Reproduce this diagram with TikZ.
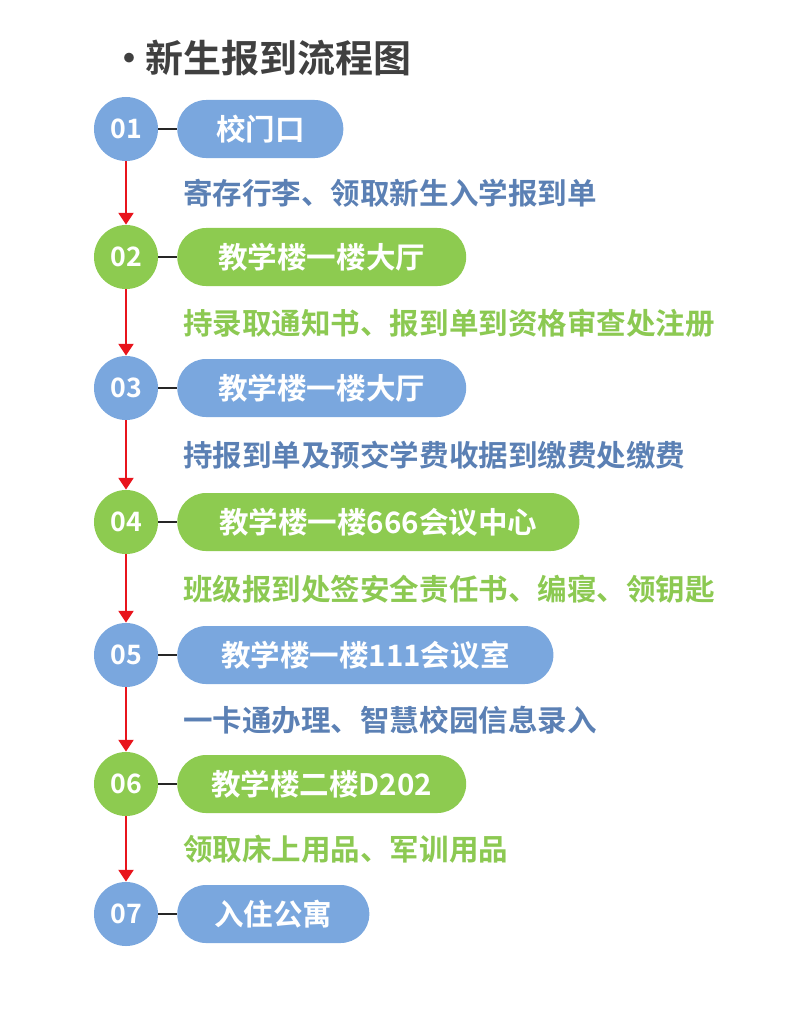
\documentclass[tikz,border=0pt]{standalone}
\usepackage{fontspec}
\setmainfont{Noto Sans CJK SC}[BoldFont={* Bold}]
\usetikzlibrary{arrows.meta}
\definecolor{stepblue}{RGB}{122,167,222}
\definecolor{stepgreen}{RGB}{141,203,80}
\definecolor{noteblue}{RGB}{91,128,180}
\definecolor{notegreen}{RGB}{140,201,82}
\definecolor{titlegrey}{RGB}{64,64,64}
\definecolor{arrowred}{RGB}{232,20,28}
\tikzset{
  num/.style={circle, minimum size=1.6cm, inner sep=0pt, text=white,
    font=\bfseries\fontsize{19}{19}\selectfont},
  place/.style={rounded corners=0.72cm, minimum height=1.45cm, anchor=west,
    text=white, font=\bfseries\fontsize{21}{21}\selectfont},
  note/.style={anchor=west, inner sep=0pt, font=\bfseries\fontsize{21}{21}\selectfont},
  go/.style={-{Triangle[length=8.5pt,width=10.5pt]}, arrowred, line width=2.1pt},
  tie/.style={line width=2.1pt, black!85}
}
\begin{document}
\begin{tikzpicture}[x=0.025cm, y=-0.025cm]
    \useasboundingbox (0,0) rectangle (800,1015);
    \node[anchor=west, inner sep=0pt, text=titlegrey, font=\bfseries\fontsize{27}{27}\selectfont] (title) at (110,58) {•\hspace{-1.7pt}新生报到流程图};

    \node[num, fill=stepblue] (1) at (126,129) {01};
    \node[num, fill=stepgreen] (2) at (126,257) {02};
    \node[num, fill=stepblue] (3) at (126,388) {03};
    \node[num, fill=stepgreen] (4) at (126,522) {04};
    \node[num, fill=stepblue] (5) at (126,655) {05};
    \node[num, fill=stepgreen] (6) at (126,784) {06};
    \node[num, fill=stepblue] (7) at (126,914) {07};

    \node[place, fill=stepblue, minimum width=4.15cm] (p1) at (177,129) {校门口};
    \node[place, fill=stepgreen, minimum width=7.22cm] (p2) at (177,257) {教学楼一楼大厅};
    \node[place, fill=stepblue, minimum width=7.22cm] (p3) at (177,388) {教学楼一楼大厅};
    \node[place, fill=stepgreen, minimum width=10.05cm] (p4) at (177,522) {教学楼一楼666会议中心};
    \node[place, fill=stepblue, minimum width=9.4cm] (p5) at (177,655) {教学楼一楼111会议室};
    \node[place, fill=stepgreen, minimum width=7.22cm] (p6) at (177,784) {教学楼二楼D202};
    \node[place, fill=stepblue, minimum width=4.8cm] (p7) at (177,914) {入住公寓};

    \node[note, text=noteblue] (n1) at (183,193) {寄存行李、领取新生入学报到单};
    \node[note, text=notegreen] (n2) at (183,323) {持录取通知书、报到单到资格审查处注册};
    \node[note, text=noteblue] (n3) at (183,455) {持报到单及预交学费收据到缴费处缴费};
    \node[note, text=notegreen] (n4) at (183,589) {班级报到处签安全责任书、编寝、领钥匙};
    \node[note, text=noteblue] (n5) at (183,720) {一卡通办理、智慧校园信息录入};
    \node[note, text=notegreen] (n6) at (183,849) {领取床上用品、军训用品};

    \draw[tie] (1) -- (p1);
    \draw[tie] (2) -- (p2);
    \draw[tie] (3) -- (p3);
    \draw[tie] (4) -- (p4);
    \draw[tie] (5) -- (p5);
    \draw[tie] (6) -- (p6);
    \draw[tie] (7) -- (p7);

    \draw[go] (1) -- (2);
    \draw[go] (2) -- (3);
    \draw[go] (3) -- (4);
    \draw[go] (4) -- (5);
    \draw[go] (5) -- (6);
    \draw[go] (6) -- (7);
\end{tikzpicture}
\end{document}
